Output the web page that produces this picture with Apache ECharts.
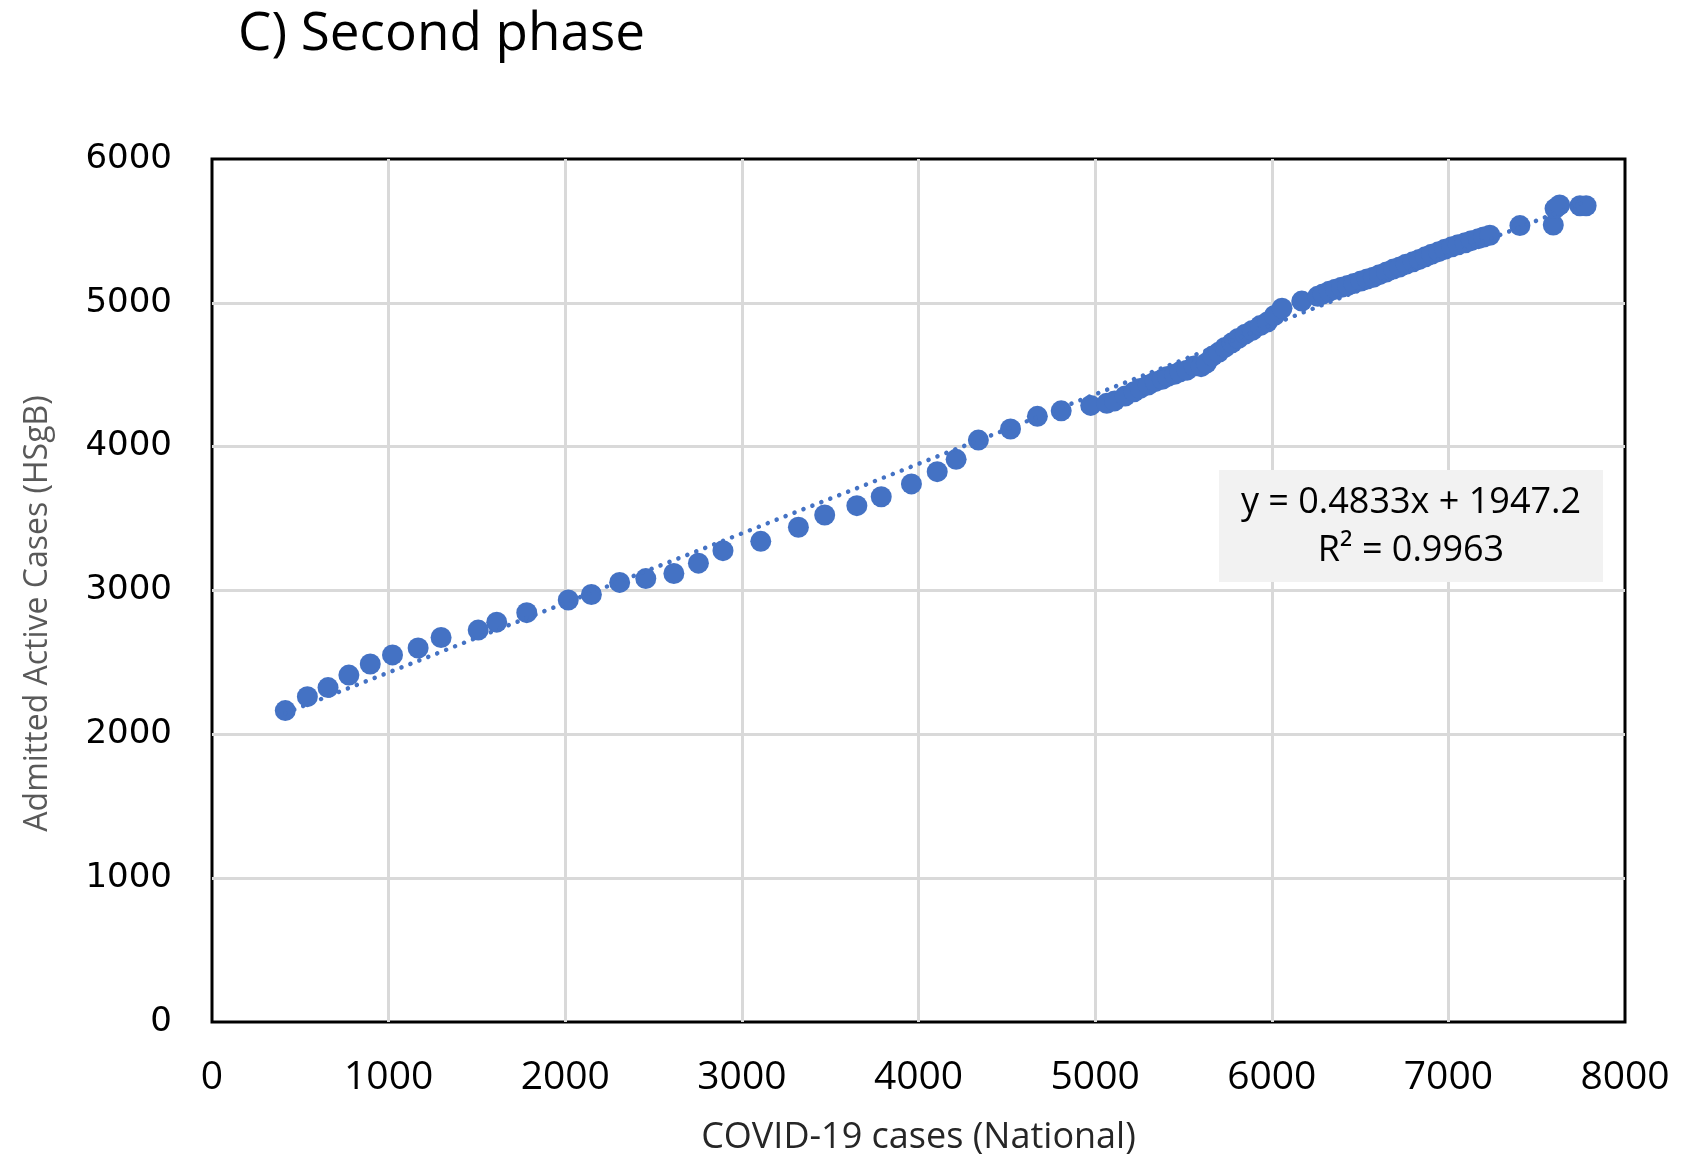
<!DOCTYPE html>
<html>
<head>
<meta charset="utf-8">
<title>C) Second phase</title>
<script src="https://cdn.jsdelivr.net/npm/echarts@6.0.0/dist/echarts.min.js"></script>
<style>
  html, body { margin: 0; padding: 0; background: #fff; }
  #chart { width: 1693px; height: 1156px; }
</style>
</head>
<body>
<div id="chart"></div>
<script>
  // national cases vs admitted active cases
  const nationalCases = [
    415, 540, 657, 775, 896, 1022, 1167, 1297, 1507, 1612, 1782, 2017, 2148,
    2308, 2456, 2615, 2754, 2893, 3107, 3320, 3469, 3651, 3789, 3960, 4106,
    4213, 4339, 4521, 4673, 4808, 4975, 5066, 5110, 5170, 5220, 5255, 5300,
    5340, 5380, 5410, 5450, 5480, 5520, 5560, 5600, 5630, 5665, 5700, 5735,
    5775, 5810, 5850, 5890, 5935, 5975, 6015, 6058, 6170, 6260, 6290, 6325,
    6360, 6395, 6430, 6465, 6505, 6540, 6575, 6610, 6650, 6690, 6725, 6760,
    6800, 6835, 6870, 6905, 6945, 6980, 7020, 7055, 7095, 7130, 7170, 7200,
    7235, 7405, 7594, 7604, 7630, 7745, 7780
  ];
  const admittedCases = [
    2165, 2262, 2325, 2412, 2489, 2552, 2600, 2673, 2725, 2780, 2846, 2934, 2972,
    3056, 3083, 3118, 3190, 3277, 3342, 3440, 3525, 3590, 3652, 3741, 3826,
    3912, 4046, 4123, 4211, 4249, 4287, 4301, 4318, 4352, 4382, 4405, 4428,
    4452, 4468, 4487, 4503, 4520, 4532, 4560, 4556, 4582, 4630, 4656, 4690,
    4722, 4752, 4782, 4808, 4842, 4866, 4912, 4962, 5012, 5045, 5062, 5080,
    5095, 5108, 5120, 5135, 5152, 5165, 5178, 5196, 5215, 5236, 5250, 5268,
    5285, 5302, 5320, 5338, 5356, 5372, 5390, 5403, 5418, 5432, 5446, 5458,
    5470, 5537, 5541, 5655, 5680, 5675, 5675
  ];

  // linear trendline as printed on the chart
  const trendSlope = 0.4833;
  const trendIntercept = 1947.2;
  const trendLabel = ["y = 0.4833x + 1947.2", "R\u00B2 = 0.9963"];

  const xTicks = [0, 1000, 2000, 3000, 4000, 5000, 6000, 7000, 8000];
  const yTicks = [0, 1000, 2000, 3000, 4000, 5000, 6000];

  const points = nationalCases.map((x, i) => [x, admittedCases[i]]);
  const xMin = Math.min(...nationalCases);
  const xMax = Math.max(...nationalCases);
  const trendPoints = [xMin, xMax].map(x => [x, trendSlope * x + trendIntercept]);

  const blue = "#4472C4";
  const chart = echarts.init(document.getElementById("chart"));

  chart.setOption({
    animation: false,
    backgroundColor: "#fff",
    title: {
      text: "C) Second phase",
      left: 233,
      top: 3,
      textStyle: { fontFamily: "Open Sans", fontSize: 53, fontWeight: "normal", color: "#000" }
    },
    grid: {
      left: 212, right: 68, top: 159, bottom: 134,
      outerBoundsMode: "none",
      containLabel: false,
      show: true, borderColor: "#000", borderWidth: 3, backgroundColor: "#fff"
    },
    xAxis: {
      type: "value",
      min: xTicks[0], max: xTicks[xTicks.length - 1], interval: 1000,
      name: "COVID-19 cases (National)",
      nameLocation: "middle",
      nameGap: 98,
      nameTextStyle: { fontFamily: "Open Sans", fontSize: 36, color: "#262626" },
      axisLine: { show: false },
      axisTick: { show: false },
      axisLabel: { fontFamily: "Open Sans", fontSize: 39, color: "#000", margin: 36, formatter: v => String(v) },
      splitLine: { showMinLine: false, showMaxLine: false, lineStyle: { color: "#d9d9d9", width: 3 } }
    },
    yAxis: {
      type: "value",
      min: yTicks[0], max: yTicks[yTicks.length - 1], interval: 1000,
      name: "Admitted Active Cases (HSgB)",
      nameLocation: "middle",
      nameGap: 158,
      nameTextStyle: { fontFamily: "Open Sans", fontSize: 32, color: "#595959", padding: [0, 46, 0, 0] },
      axisLine: { show: false },
      axisTick: { show: false },
      axisLabel: { fontFamily: "DejaVu Sans", fontSize: 34, color: "#000", margin: 40, formatter: v => String(v) },
      splitLine: { showMinLine: false, showMaxLine: false, lineStyle: { color: "#d9d9d9", width: 3 } }
    },
    series: [
      {
        type: "scatter",
        data: points,
        symbol: "circle",
        symbolSize: 21,
        itemStyle: { color: blue, opacity: 1 },
        z: 2
      },
      {
        type: "line",
        data: trendPoints,
        symbol: "none",
        lineStyle: { color: blue, width: 4.5, type: [0.1, 9.5], cap: "round" },
        z: 3,
        silent: true
      }
    ],
    graphic: [
      {
        type: "group",
        left: 1219,
        top: 470,
        z: 100,
        children: [
          { type: "rect", z: 100, shape: { x: 0, y: 0, width: 384, height: 112 }, style: { fill: "#f2f2f2" } },
          {
            type: "text", z: 101, x: 192, y: 33,
            style: { text: trendLabel[0], fontFamily: "Open Sans", fontSize: 36, fill: "#000", align: "center", verticalAlign: "middle" }
          },
          {
            type: "text", z: 101, x: 192, y: 81,
            style: { text: trendLabel[1], fontFamily: "Open Sans", fontSize: 36, fill: "#000", align: "center", verticalAlign: "middle" }
          }
        ]
      }
    ]
  });
</script>
</body>
</html>
